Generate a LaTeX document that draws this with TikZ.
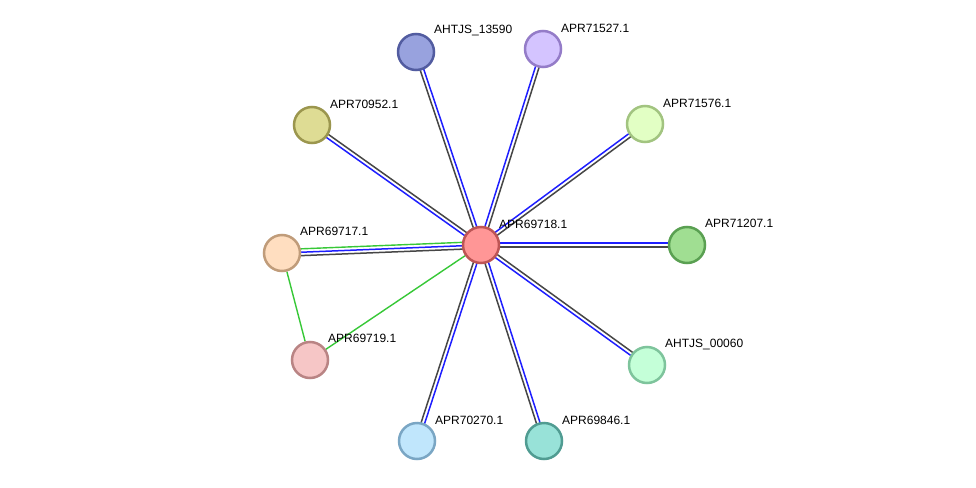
\documentclass[tikz,border=0pt]{standalone}
\usepackage{fontspec}
\setmainfont{Liberation Sans}
\usepackage{xcolor}
\usetikzlibrary{calc, backgrounds}

\definecolor{blueedge}{RGB}{30,30,255}
\definecolor{grayedge}{RGB}{70,70,70}
\definecolor{greenedge}{RGB}{55,200,55}
\definecolor{fCenter}{RGB}{255,150,150}  \definecolor{dCenter}{RGB}{190,85,85}
\definecolor{fA}{RGB}{152,162,222}       \definecolor{dA}{RGB}{82,92,160}
\definecolor{fB}{RGB}{212,196,255}       \definecolor{dB}{RGB}{148,124,200}
\definecolor{fC}{RGB}{222,220,148}       \definecolor{dC}{RGB}{155,150,78}
\definecolor{fD}{RGB}{226,255,196}       \definecolor{dD}{RGB}{162,196,128}
\definecolor{fE}{RGB}{160,222,146}       \definecolor{dE}{RGB}{90,160,82}
\definecolor{fF}{RGB}{255,222,192}       \definecolor{dF}{RGB}{192,156,122}
\definecolor{fG}{RGB}{246,198,198}       \definecolor{dG}{RGB}{185,132,132}
\definecolor{fH}{RGB}{196,255,216}       \definecolor{dH}{RGB}{126,196,156}
\definecolor{fI}{RGB}{192,230,252}       \definecolor{dI}{RGB}{122,166,196}
\definecolor{fJ}{RGB}{152,226,216}       \definecolor{dJ}{RGB}{80,156,146}

\begin{document}
\begin{tikzpicture}[x=1pt, y=-1pt,
  prot/.style={circle, line width=2.5pt, minimum size=36pt, inner sep=0pt},
  lbl/.style={anchor=west, inner sep=0pt, font=\fontsize{12}{14}\selectfont},
  blueln/.style={line width=1.5pt, blueedge},
  grayln/.style={line width=1.5pt, grayedge},
  greenln/.style={line width=1.4pt, greenedge}
]
\useasboundingbox (0,0) rectangle (976,487);
%% Proteins
\node[prot, fill=fCenter, draw=dCenter] (c)      at (481,245) {};
\node[prot, fill=fA, draw=dA]           (n13590) at (416,52)  {};
\node[prot, fill=fB, draw=dB]           (n71527) at (543,49)  {};
\node[prot, fill=fC, draw=dC]           (n70952) at (312,125) {};
\node[prot, fill=fD, draw=dD]           (n71576) at (645,124) {};
\node[prot, fill=fE, draw=dE]           (n71207) at (687,245) {};
\node[prot, fill=fF, draw=dF]           (n69717) at (282,253) {};
\node[prot, fill=fG, draw=dG]           (n69719) at (310,360) {};
\node[prot, fill=fH, draw=dH]           (n00060) at (647,365) {};
\node[prot, fill=fI, draw=dI]           (n70270) at (417,441) {};
\node[prot, fill=fJ, draw=dJ]           (n69846) at (544,441) {};
%% Labels
\node[lbl] (lc)      at (499,224) {APR69718.1};
\node[lbl] (l13590)  at (434,31)  {AHTJS\_13590};
\node[lbl] (l71527)  at (561,28)  {APR71527.1};
\node[lbl] (l70952)  at (330,104) {APR70952.1};
\node[lbl] (l71576)  at (663,103) {APR71576.1};
\node[lbl] (l71207)  at (705,223) {APR71207.1};
\node[lbl] (l69717)  at (300,231) {APR69717.1};
\node[lbl] (l69719)  at (328,338) {APR69719.1};
\node[lbl] (l00060)  at (665,344) {AHTJS\_00060};
\node[lbl] (l70270)  at (435,420) {APR70270.1};
\node[lbl] (l69846)  at (562,420) {APR69846.1};
%% Edges
\begin{scope}[on background layer]
\fill[white] (0,0) rectangle (976,487);
\foreach \a/\b in {c/n69846, c/n70270, c/n70952, c/n71207, c/n71527,
                   c/n71576, n00060/c, n13590/c}{
  \draw[blueln] ($(\a)!1.8pt!90:(\b)$) -- ($(\b)!1.8pt!-90:(\a)$);
  \draw[grayln] ($(\a)!1.8pt!-90:(\b)$) -- ($(\b)!1.8pt!90:(\a)$);
}
\draw[greenln] ($(n69717)!3.4pt!90:(c)$) -- ($(c)!3.4pt!-90:(n69717)$);
\draw[blueln] (n69717) -- (c);
\draw[grayln] ($(n69717)!3.4pt!-90:(c)$) -- ($(c)!3.4pt!90:(n69717)$);
\draw[greenln] (c) -- (n69719);
\draw[greenln] (n69717) -- (n69719);
\end{scope}
\end{tikzpicture}
\end{document}
